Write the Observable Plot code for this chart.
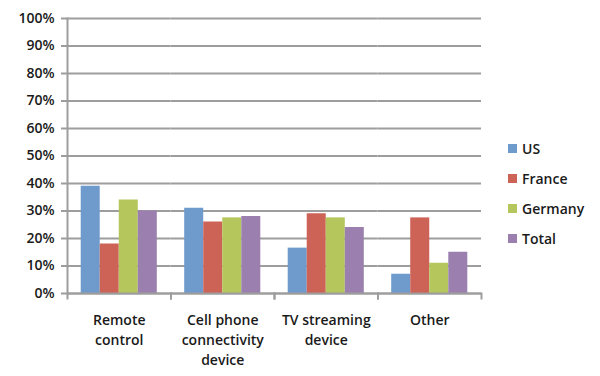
<!DOCTYPE html>
<html>
<head>
<meta charset="utf-8">
<script src="https://cdn.jsdelivr.net/npm/d3@7"></script>
<script src="https://cdn.jsdelivr.net/npm/@observablehq/plot@0.6"></script>
<style>
  html, body { margin: 0; padding: 0; background: #fff; }
  #wrap { position: relative; width: 600px; height: 376px; font-family: "Open Sans", "DejaVu Sans", sans-serif; }
  #legend { position: absolute; left: 508px; top: 133px; font-size: 14px; font-weight: 600; color: #1a1a1a; }
  #legend .row { display: flex; align-items: center; height: 30px; }
  #legend .sw { width: 9px; height: 9px; margin-right: 5px; }
</style>
</head>
<body>
<div id="wrap"></div>
<script>
const categories = ["Remote control", "Cell phone connectivity device", "TV streaming device", "Other"];
const categoryLabels = ["Remote\ncontrol", "Cell phone\nconnectivity\ndevice", "TV streaming\ndevice", "Other"];
const series = ["US", "France", "Germany", "Total"];
const usValues = [39, 31, 16.5, 7];
const franceValues = [18, 26, 29, 27.5];
const germanyValues = [34, 27.5, 27.5, 11];
const totalValues = [30, 28, 24, 15];
const seriesColors = ["#6e9bcc", "#cd6357", "#b4c65c", "#9b80af"];
const yTicks = [0, 10, 20, 30, 40, 50, 60, 70, 80, 90, 100];

const valuesBySeries = [usValues, franceValues, germanyValues, totalValues];
const data = [];
categories.forEach((c, i) => series.forEach((s, j) => data.push({category: c, series: s, value: valuesBySeries[j][i]})));
const labelOf = new Map(categories.map((c, i) => [c, categoryLabels[i]]));

const grey = "#9d9d9d";
const plot = Plot.plot({
  width: 600,
  height: 376,
  marginLeft: 67,
  marginRight: 119,
  marginTop: 18,
  marginBottom: 83,
  style: {fontFamily: "'Open Sans', 'DejaVu Sans', sans-serif", fontSize: "14px", fontWeight: 600, color: "#1a1a1a", background: "#fff", overflow: "visible"},
  fx: {domain: categories, padding: 0, label: null, round: false},
  x: {domain: series, paddingInner: 0, paddingOuter: 0.72, round: false, axis: null},
  y: {domain: [0, 100], label: null},
  color: {domain: series, range: seriesColors},
  marks: [
    Plot.gridY(yTicks, {stroke: grey, strokeOpacity: 1, strokeWidth: 2}),
    Plot.axisY(yTicks, {tickFormat: d => d + "%", tickSize: 6, tickPadding: 7, stroke: grey, strokeWidth: 2, label: null}),
    Plot.axisFx({anchor: "bottom", tickSize: 0, tickPadding: 17, tickFormat: c => labelOf.get(c), lineHeight: 1.43, label: null}),
    Plot.frame({anchor: "left", facet: "super", stroke: grey, strokeWidth: 2}),
    Plot.frame({anchor: "left", insetTop: 275, insetBottom: -5, stroke: grey, strokeWidth: 2}),
    Plot.frame({anchor: "right", insetTop: 275, insetBottom: -5, stroke: grey, strokeWidth: 2}),
    Plot.barY(data, {fx: "category", x: "series", y: "value", fill: "series"}),
    Plot.ruleY([0], {stroke: grey, strokeWidth: 2})
  ]
});
const wrap = document.getElementById("wrap");
wrap.appendChild(plot);

const colorScale = plot.scale("color");
const legend = document.createElement("div");
legend.id = "legend";
colorScale.domain.forEach((s, i) => {
  const row = document.createElement("div");
  row.className = "row";
  const sw = document.createElement("span");
  sw.className = "sw";
  sw.style.background = colorScale.range[i];
  const t = document.createElement("span");
  t.textContent = s;
  row.appendChild(sw);
  row.appendChild(t);
  legend.appendChild(row);
});
wrap.appendChild(legend);
</script>
</body>
</html>
